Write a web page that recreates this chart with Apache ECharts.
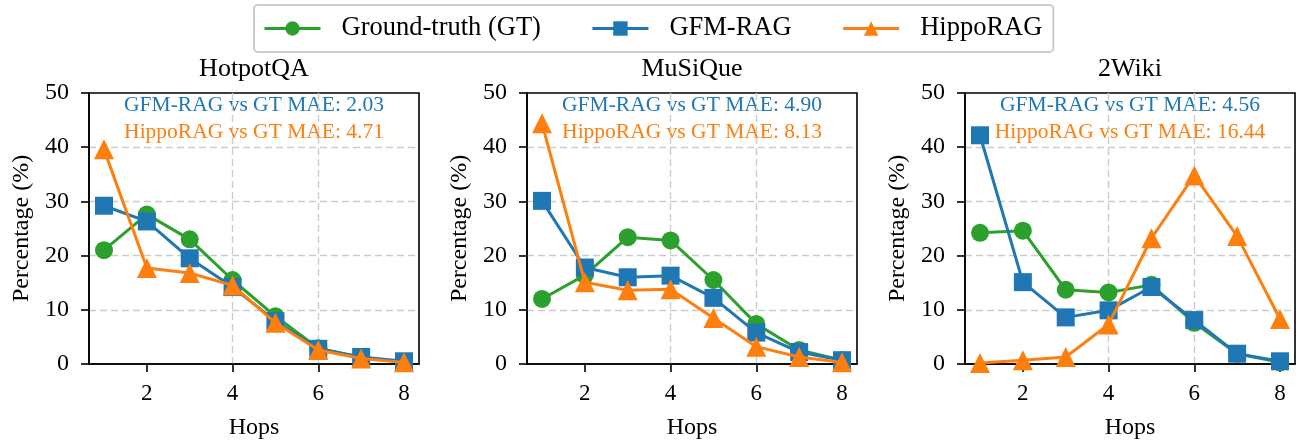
<!DOCTYPE html>
<html><head><meta charset="utf-8">
<script src="https://cdn.jsdelivr.net/npm/echarts@6/dist/echarts.min.js"></script>
<style>html,body{margin:0;padding:0;background:#fff}#c{width:1302px;height:442px}</style>
</head><body><div id="c"></div>
<script>
const hops = [1, 2, 3, 4, 5, 6, 7, 8];
const xTicks = [2, 4, 6, 8];
const datasetNames = ['HotpotQA', 'MuSiQue', '2Wiki'];
const seriesNames = ['Ground-truth (GT)', 'GFM-RAG', 'HippoRAG'];
const hotpotGT    = [21.0, 27.6, 23.0, 15.5, 8.8, 2.9, 1.2, 0.3];
const hotpotGFM   = [29.2, 26.3, 19.5, 14.2, 7.9, 2.8, 1.3, 0.5];
const hotpotHippo = [39.6, 17.7, 16.8, 14.5, 7.6, 2.6, 1.0, 0.3];
const musiqueGT    = [12.0, 16.4, 23.4, 22.8, 15.5, 7.4, 2.6, 0.7];
const musiqueGFM   = [30.1, 17.8, 16.0, 16.3, 12.2, 5.8, 2.2, 0.7];
const musiqueHippo = [44.4, 15.1, 13.6, 13.8, 8.5, 3.2, 1.3, 0.3];
const wikiGT    = [24.2, 24.6, 13.7, 13.2, 14.6, 7.6, 1.9, 0.3];
const wikiGFM   = [42.2, 15.1, 8.6, 9.9, 14.2, 8.1, 1.9, 0.5];
const wikiHippo = [0.2, 0.7, 1.3, 7.3, 23.2, 34.8, 23.6, 8.3];
const maeGFM   = ['2.03', '4.90', '4.56'];
const maeHippo = ['4.71', '8.13', '16.44'];

const allData = [
  [hotpotGT, hotpotGFM, hotpotHippo],
  [musiqueGT, musiqueGFM, musiqueHippo],
  [wikiGT, wikiGFM, wikiHippo]
];
const colors = ['#2ca02c', '#1f77b4', '#ff7f0e'];
const symbols = ['circle', 'rect', 'triangle'];
const symSizes = [18, 18, 20];
const FONT = '"Liberation Serif","DejaVu Serif",serif';

const lefts = [89, 527, 965];
const W = 330, TOP = 93, H = 271;

const grids = [], xAxes = [], yAxes = [], series = [], graphics = [];
for (let i = 0; i < 3; i++) {
  grids.push({left: lefts[i], top: TOP, width: W, height: H, show: true, containLabel: false, outerBoundsMode: 'none', borderColor: '#000', borderWidth: 1.6, backgroundColor: 'transparent'});
  xAxes.push({
    type: 'value', gridIndex: i, min: 0.65, max: 8.35,
    name: 'Hops', nameLocation: 'middle', nameGap: 52,
    nameTextStyle: {fontFamily: FONT, fontSize: 24, color: '#000'},
    axisLine: {lineStyle: {color: '#000', width: 1.6}},
    axisTick: {show: true, inside: false, length: 8, customValues: xTicks, lineStyle: {color: '#000', width: 1.6}},
    axisLabel: {customValues: xTicks, fontFamily: FONT, fontSize: 23, color: '#000', margin: 18},
    splitLine: {show: true, showMinLine: false, showMaxLine: false, lineStyle: {color: '#cccccc', type: [7, 4], width: 1.4}}
  });
  yAxes.push({
    type: 'value', gridIndex: i, min: 0, max: 50, interval: 10,
    name: 'Percentage (%)', nameLocation: 'middle', nameGap: 55,
    nameTextStyle: {fontFamily: FONT, fontSize: 24, color: '#000'},
    axisLine: {show: true, lineStyle: {color: '#000', width: 1.6}},
    axisTick: {show: true, inside: false, length: 8, lineStyle: {color: '#000', width: 1.6}},
    axisLabel: {fontFamily: FONT, fontSize: 24, color: '#000', margin: 20},
    splitLine: {show: true, showMinLine: false, showMaxLine: false, lineStyle: {color: '#cccccc', type: [7, 4], width: 1.4}}
  });
  for (let s = 0; s < 3; s++) {
    series.push({
      type: 'line', name: seriesNames[s], xAxisIndex: i, yAxisIndex: i,
      data: hops.map((h, k) => [h, allData[i][s][k]]),
      symbol: symbols[s], symbolSize: symSizes[s], showAllSymbol: true,
      itemStyle: {color: colors[s]}, lineStyle: {color: colors[s], width: 3},
      animation: false, z: 3 + s
    });
  }
  const cx = lefts[i] + W / 2;
  graphics.push({type: 'text', x: cx, y: 69, style: {text: datasetNames[i], fill: '#000', font: '26px ' + FONT, align: 'center', verticalAlign: 'middle'}});
  graphics.push({type: 'text', x: cx, y: 105, style: {text: 'GFM-RAG vs GT MAE: ' + maeGFM[i], fill: colors[1], font: '21.5px ' + FONT, align: 'center', verticalAlign: 'middle'}});
  graphics.push({type: 'text', x: cx, y: 132, style: {text: 'HippoRAG vs GT MAE: ' + maeHippo[i], fill: colors[2], font: '21.5px ' + FONT, align: 'center', verticalAlign: 'middle'}});
}

const chart = echarts.init(document.getElementById('c'), null, {renderer: 'canvas'});
chart.setOption({
  animation: false,
  backgroundColor: '#fff',
  grid: grids, xAxis: xAxes, yAxis: yAxes, series: series, graphic: graphics,
  legend: {
    data: seriesNames, left: 254, top: 5,
    itemWidth: 56, itemHeight: 18, itemGap: 50,
    padding: [10, 11, 10, 9],
    lineStyle: {width: 3},
    borderColor: '#cccccc', borderWidth: 2, borderRadius: 4,
    textStyle: {fontFamily: FONT, fontSize: 26.5, color: '#000', padding: [0, 0, 0, 16]}
  }
});
</script></body></html>
